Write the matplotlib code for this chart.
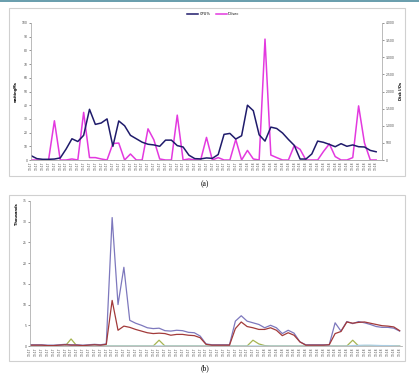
import matplotlib
matplotlib.use("Agg")
import matplotlib.pyplot as plt
from matplotlib.patches import Rectangle
from matplotlib.ticker import FuncFormatter

# ---------------- data: panel (a) ----------------
cpu_pct = [3.2, 1.0, 0.5, 0.5, 0.7, 1.5, 8.0, 15.5, 13.5, 18.0,
           37.0, 26.0, 27.0, 30.0, 10.0, 28.5, 25.0, 18.0, 15.5, 13.0,
           11.5, 11.0, 10.0, 14.5, 14.5, 10.5, 9.5, 3.5, 1.0, 0.8,
           1.5, 1.2, 4.0, 18.7, 19.4, 15.3, 17.7, 40.0, 36.0, 18.4,
           13.8, 24.0, 23.0, 19.7, 15.0, 10.7, 0.7, 0.7, 4.4, 13.8,
           12.9, 11.4, 9.7, 11.9, 10.0, 11.0, 9.7, 9.5, 7.0, 6.0]
io_sec = [0, 0, 0, 0, 1145, 0, 0, 30, 0, 1390,
          70, 70, 30, 0, 480, 495, 0, 175, 0, 0,
          910, 590, 30, 0, 0, 1310, 0, 30, 0, 0,
          660, 0, 70, 0, 0, 600, 0, 280, 30, 0,
          3530, 145, 70, 0, 0, 420, 310, 0, 0, 0,
          250, 470, 100, 0, 0, 70, 1580, 500, 0, 0]
labels_a = ["13:17"] * 36 + ["13:18"] * 24

# ---------------- data: panel (b), thousands ----------------
series_purple = [0.3, 0.3, 0.3, 0.2, 0.2, 0.3, 0.4, 0.3, 0.3, 0.2,
                 0.3, 0.4, 0.3, 0.5, 31.0, 10.0, 19.0, 6.2, 5.5, 5.0,
                 4.4, 4.2, 4.3, 3.7, 3.6, 3.8, 3.7, 3.3, 3.2, 2.4,
                 0.5, 0.3, 0.3, 0.3, 0.3, 6.0, 7.3, 6.0, 5.6, 5.2,
                 4.4, 5.0, 4.4, 3.0, 3.8, 3.1, 1.0, 0.3, 0.3, 0.3,
                 0.3, 0.3, 5.6, 3.6, 5.9, 5.4, 5.9, 5.6, 5.2, 4.7,
                 4.5, 4.5, 4.3, 3.6]
series_red = [0.2, 0.2, 0.2, 0.1, 0.1, 0.2, 0.3, 0.2, 0.2, 0.1,
              0.2, 0.3, 0.2, 0.4, 11.0, 3.8, 4.8, 4.5, 4.0, 3.6,
              3.2, 3.0, 3.1, 3.0, 2.6, 2.8, 2.8, 2.6, 2.5, 2.0,
              0.4, 0.2, 0.2, 0.2, 0.2, 4.2, 5.8, 4.7, 4.4, 4.0,
              4.0, 4.4, 3.8, 2.5, 3.2, 2.6, 1.0, 0.2, 0.2, 0.2,
              0.2, 0.3, 3.0, 3.5, 5.8, 5.5, 5.7, 5.8, 5.5, 5.2,
              4.9, 4.8, 4.6, 3.7]
series_green = [0, 0, 0, 0, 0, 0, 0, 1.7, 0, 0,
                0, 0, 0, 0, 0, 0, 0, 0, 0, 0,
                0, 0, 1.4, 0, 0, 0, 0, 0, 0, 0,
                0, 0, 0, 0, 0, 0, 0, 0, 1.4, 0.5,
                0.1, 0, 0, 0, 0, 0, 0, 0, 0, 0,
                0, 0, 0, 0, 0, 1.4, 0, 0, 0, 0,
                0, 0, 0, 0]
series_lightblue = [0] * 55 + [0.1, 0.15, 0.2, 0.2, 0.15, 0.1, 0.1, 0.05, 0]
labels_b = ["13:17"] * 40 + ["13:18"] * 24

W, H = 419, 373
fig = plt.figure(figsize=(W / 100, H / 100), dpi=100)
fig.patch.set_facecolor("white")

def fx(x):
    return x / W

def fy(y):
    return 1 - y / H

# top teal line and panel frames
fig.patches.append(Rectangle((0, fy(2)), 1, 2 / H, transform=fig.transFigure,
                             facecolor="#6b9fae", edgecolor="none"))
for (x0, y0, x1, y1) in [(9, 8, 405, 176), (9, 195, 405, 361)]:
    fig.patches.append(Rectangle((fx(x0), fy(y1)), fx(x1) - fx(x0), fy(y0) - fy(y1),
                                 transform=fig.transFigure, facecolor="none",
                                 edgecolor="#d0d0d0", linewidth=0.8))

tick_fs = 2.2
spine_c = "#b0b0b0"

def style(ax, sides):
    for s in ["left", "right", "top", "bottom"]:
        ax.spines[s].set_visible(s in sides)
        ax.spines[s].set_color(spine_c)
        ax.spines[s].set_linewidth(0.6)
    ax.tick_params(labelsize=tick_fs, colors="#444444", length=1.5, width=0.4, pad=1)
    ax.set_facecolor("none")

# ---------------- panel (a) ----------------
axa = fig.add_axes([fx(31), fy(160), fx(382) - fx(31), fy(23) - fy(160)])
xa = list(range(len(cpu_pct)))
l1, = axa.plot(xa, cpu_pct, color="#1f1b6b", lw=1.1, label="CPU%")
axa.set_xlim(0, 60)
axa.set_ylim(0, 100)
axa.set_yticks(range(0, 101, 10))
axa.set_xticks(xa)
axa.set_xticklabels(labels_a, rotation=90)
axa.set_ylabel("waitingMs", fontsize=2.6, fontweight="bold", labelpad=3)
style(axa, ["left", "bottom"])
axa.tick_params(axis="x", length=0)

axa2 = axa.twinx()
l2, = axa2.plot(xa, io_sec, color="#e339df", lw=1.1, label="IO/sec")
axa2.set_ylim(0, 4000)
axa2.set_yticks(range(0, 4001, 500))
axa2.yaxis.set_major_formatter(FuncFormatter(lambda v, p: f"{int(v):,}"))
axa2.set_ylabel("Disk I/Os", fontsize=2.6, fontweight="bold", labelpad=3)
style(axa2, ["right", "bottom"])
axa.set_zorder(axa2.get_zorder() + 1)

fig.legend([l1, l2], ["CPU%", "IO/sec"], loc="center left",
           bbox_to_anchor=(fx(184), fy(14)), ncol=2, frameon=False,
           fontsize=2.6, handlelength=3, columnspacing=1.5, handletextpad=0.4)

fig.text(fx(205), fy(184), "(a)", ha="center", va="center", fontsize=5.5,
         family="Liberation Serif")

# ---------------- panel (b) ----------------
axb = fig.add_axes([fx(30), fy(346), fx(402) - fx(30), fy(201) - fy(346)])
xb = list(range(len(series_purple)))
axb.plot(xb, series_green, color="#a6b552", lw=0.9)
axb.plot(xb, series_lightblue, color="#a9cde3", lw=0.9)
axb.plot(xb, series_purple, color="#7d78bd", lw=0.9)
axb.plot(xb, series_red, color="#a23a3a", lw=0.9)
axb.set_xlim(0, 63.4)
axb.set_ylim(0, 35)
axb.set_yticks(range(0, 36, 5))
axb.set_xticks(xb)
axb.set_xticklabels(labels_b, rotation=90)
style(axb, ["left", "bottom"])
axb.tick_params(axis="x", length=0)
fig.text(fx(17), fy(203), "Thousands", rotation=90, ha="center", va="top",
         fontsize=2.6, fontweight="bold")

fig.text(fx(205), fy(368), "(b)", ha="center", va="center", fontsize=5.5,
         family="Liberation Serif")

fig.savefig("out.png", dpi=100)
